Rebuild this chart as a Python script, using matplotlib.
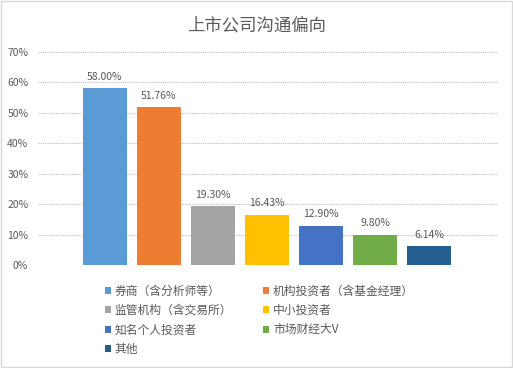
import matplotlib
matplotlib.use('Agg')
import matplotlib.pyplot as plt
from matplotlib.patches import Rectangle

plt.rcParams['font.family'] = ['Noto Sans CJK SC', 'DejaVu Sans']

# --- data ---
categories = ['券商（含分析师等）', '机构投资者（含基金经理）', '监管机构（含交易所）',
              '中小投资者', '知名个人投资者', '市场财经大V', '其他']
values = [58.00, 51.76, 19.30, 16.43, 12.90, 9.80, 6.14]
colors = ['#5B9BD5', '#ED7D31', '#A5A5A5', '#FFC000', '#4472C4', '#70AD47', '#255E91']
yticks = [0, 10, 20, 30, 40, 50, 60, 70]
title = '上市公司沟通偏向'

text_color = '#595959'

fig = plt.figure(figsize=(5.13, 3.68), dpi=100)
ax = fig.add_axes([0.074, 0.28, 0.897, 0.579])

handles = []
for i, (v, c, name) in enumerate(zip(values, colors, categories)):
    b = ax.bar(i, v, width=0.81, color=c, label=name, zorder=3)
    handles.append(b)
    ax.text(i, v + 2.2, f'{v:.2f}%', ha='center', va='bottom',
            fontsize=7.5, color=text_color)

ax.set_xlim(-1.24, 7.28)
ax.set_ylim(0, 70)
ax.set_yticks(yticks)
ax.set_yticklabels([f'{t}%' for t in yticks], fontsize=7.5, color=text_color)
ax.set_xticks([])
ax.tick_params(axis='y', length=0, pad=7)
ax.grid(axis='y', color='#BFBFBF', linestyle=(0, (1, 1)), linewidth=0.8, zorder=0)
for s in ax.spines.values():
    s.set_visible(False)

fig.text(0.5, 0.93, title, ha='center', va='center', fontsize=12.5, color=text_color)

# legend in two columns, filled row by row
order = [0, 2, 4, 6, 1, 3, 5]
leg = fig.legend([handles[k] for k in order], [categories[k] for k in order],
                 loc='upper left', bbox_to_anchor=(0.195, 0.24), ncol=2,
                 frameon=False, fontsize=8.5, labelcolor=text_color,
                 handlelength=0.55, handleheight=0.55, handletextpad=0.3,
                 columnspacing=2.6, labelspacing=0.55, borderaxespad=0)

# outer border
fig.patches.append(Rectangle((0.002, 0.003), 0.996, 0.994, transform=fig.transFigure,
                             fill=False, edgecolor='#D9D9D9', linewidth=1))

fig.savefig('out.png', dpi=100)
